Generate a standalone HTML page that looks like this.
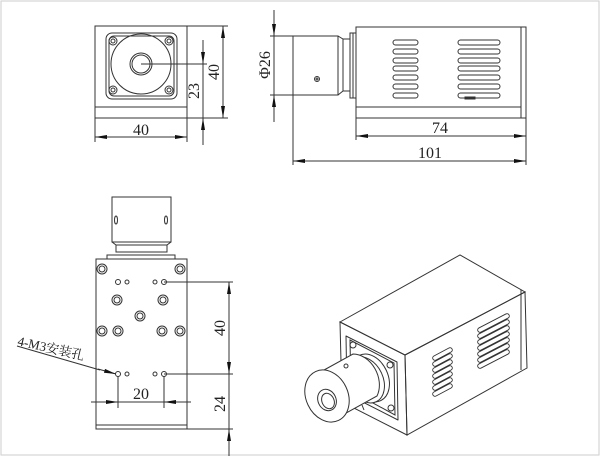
<!DOCTYPE html>
<html><head><meta charset="utf-8"><style>
html,body{margin:0;padding:0;background:#fff;}
svg{display:block;}
text{font-family:"Liberation Serif","Noto Serif CJK SC",serif;fill:#222;font-size:16px;}
</style></head><body>
<svg width="600" height="456" viewBox="0 0 600 456" xmlns="http://www.w3.org/2000/svg">
<defs>
<marker id="a" viewBox="0 0 12 4" refX="12" refY="2" markerWidth="12" markerHeight="4" markerUnits="userSpaceOnUse" orient="auto"><path d="M0,0 L12,2 L0,4z" fill="#111"/></marker>
</defs>
<rect x="1" y="1" width="598" height="454" fill="none" stroke="#ccc"/>
<g fill="none" stroke="#333" stroke-width="1">
<!-- top-left front view -->
<rect x="95" y="26" width="92" height="92"/>
<line x1="95" y1="107" x2="187" y2="107"/>
<rect x="106" y="33" width="71" height="66" rx="6"/>
<rect x="109" y="36" width="65" height="60" rx="5"/>
<circle cx="141" cy="64" r="30"/>
<circle cx="141" cy="64" r="11"/>
<circle cx="141" cy="64" r="9"/>
<circle cx="113" cy="41" r="4"/><circle cx="113" cy="41" r="2"/>
<circle cx="169" cy="41" r="4"/><circle cx="169" cy="41" r="2"/>
<circle cx="113" cy="90" r="4"/><circle cx="113" cy="90" r="2"/>
<circle cx="169" cy="90" r="4"/><circle cx="169" cy="90" r="2"/>
<line x1="141" y1="64" x2="207" y2="64"/>
<line x1="187" y1="26" x2="228" y2="26"/>
<line x1="187" y1="118" x2="228" y2="118"/>
<line x1="223" y1="72" x2="223" y2="26" marker-end="url(#a)"/>
<line x1="223" y1="72" x2="223" y2="118" marker-end="url(#a)"/>
<line x1="203" y1="40" x2="203" y2="64" marker-end="url(#a)"/>
<line x1="203" y1="145" x2="203" y2="118" marker-end="url(#a)"/>
<line x1="203" y1="64" x2="203" y2="118"/>
<line x1="95" y1="118" x2="95" y2="142"/>
<line x1="187" y1="118" x2="187" y2="142"/>
<line x1="141" y1="137" x2="95" y2="137" marker-end="url(#a)"/>
<line x1="141" y1="137" x2="187" y2="137" marker-end="url(#a)"/>

<!-- top-right side view -->
<rect x="356" y="27" width="170" height="91"/>
<line x1="521" y1="27" x2="521" y2="118"/>
<line x1="356" y1="107" x2="521" y2="107"/>
<rect x="350" y="33" width="6" height="65"/>
<line x1="353" y1="33" x2="353" y2="98"/>
<rect x="293" y="36" width="45" height="59"/>
<path d="M338,36 L343,39 L350,39 M338,95 L343,91 L350,91 M343,39 L343,91"/>
<circle cx="317" cy="79" r="2.5"/><circle cx="317" cy="79" r="1"/>
<g>
<rect x="393" y="40" width="25" height="5" rx="2.5"/><rect x="393" y="49" width="25" height="5" rx="2.5"/>
<rect x="393" y="58" width="25" height="5" rx="2.5"/><rect x="393" y="66" width="25" height="5" rx="2.5"/>
<rect x="393" y="75" width="25" height="5" rx="2.5"/><rect x="393" y="84" width="25" height="5" rx="2.5"/>
<rect x="393" y="93" width="25" height="5" rx="2.5"/>
<rect x="458" y="40" width="42" height="5" rx="2.5"/><rect x="458" y="49" width="42" height="5" rx="2.5"/>
<rect x="458" y="58" width="42" height="5" rx="2.5"/><rect x="458" y="66" width="42" height="5" rx="2.5"/>
<rect x="458" y="75" width="42" height="5" rx="2.5"/><rect x="458" y="84" width="42" height="5" rx="2.5"/>
<rect x="458" y="93" width="42" height="5" rx="2.5"/>
<rect x="465" y="97" width="10" height="2"/>
</g>
<line x1="270" y1="36" x2="293" y2="36"/>
<line x1="270" y1="95" x2="293" y2="95"/>
<line x1="274" y1="10" x2="274" y2="36" marker-end="url(#a)"/>
<line x1="274" y1="122" x2="274" y2="95" marker-end="url(#a)"/>
<line x1="274" y1="36" x2="274" y2="95"/>
<line x1="293" y1="95" x2="293" y2="165"/>
<line x1="356" y1="118" x2="356" y2="140"/>
<line x1="526" y1="118" x2="526" y2="165"/>
<line x1="440" y1="136" x2="356" y2="136" marker-end="url(#a)"/>
<line x1="440" y1="136" x2="526" y2="136" marker-end="url(#a)"/>
<line x1="410" y1="161" x2="293" y2="161" marker-end="url(#a)"/>
<line x1="410" y1="161" x2="526" y2="161" marker-end="url(#a)"/>

<!-- bottom-left top view -->
<rect x="112" y="197" width="59" height="45"/>
<ellipse cx="116" cy="220" rx="1.5" ry="4"/>
<ellipse cx="166" cy="220" rx="1.5" ry="4"/>
<path d="M112,242 L116,245 L116,252 L167,252 L167,245 L171,242 M116,245 L167,245"/>
<rect x="107" y="255" width="68" height="4"/>
<rect x="96" y="259" width="91" height="170"/>
<line x1="96" y1="425" x2="187" y2="425"/>
<circle cx="102" cy="269" r="5"/><circle cx="102" cy="269" r="3"/>
<circle cx="180" cy="269" r="5"/><circle cx="180" cy="269" r="3"/>
<circle cx="118" cy="282" r="2.5"/><circle cx="127" cy="282" r="2"/>
<circle cx="155" cy="282" r="2"/><circle cx="164" cy="282" r="2.5"/>
<circle cx="117" cy="300" r="5"/><circle cx="117" cy="300" r="3"/>
<circle cx="163" cy="300" r="5"/><circle cx="163" cy="300" r="3"/>
<circle cx="140" cy="316" r="5"/><circle cx="140" cy="316" r="3"/>
<circle cx="102" cy="331" r="5"/><circle cx="102" cy="331" r="3"/>
<circle cx="118" cy="331" r="5"/><circle cx="118" cy="331" r="3"/>
<circle cx="162" cy="331" r="5"/><circle cx="162" cy="331" r="3"/>
<circle cx="180" cy="331" r="5"/><circle cx="180" cy="331" r="3"/>
<circle cx="118" cy="374" r="2.5"/><circle cx="127" cy="374" r="2"/>
<circle cx="155" cy="374" r="2"/><circle cx="164" cy="374" r="2.5"/>
<line x1="164" y1="282" x2="233" y2="282"/>
<line x1="164" y1="374" x2="233" y2="374"/>
<line x1="187" y1="429" x2="233" y2="429"/>
<line x1="229" y1="328" x2="229" y2="282" marker-end="url(#a)"/>
<line x1="229" y1="328" x2="229" y2="374" marker-end="url(#a)"/>
<line x1="229" y1="374" x2="229" y2="429"/>
<line x1="229" y1="456" x2="229" y2="429" marker-end="url(#a)"/>
<line x1="118" y1="376" x2="118" y2="408"/>
<line x1="164" y1="376" x2="164" y2="408"/>
<line x1="91" y1="402" x2="118" y2="402" marker-end="url(#a)"/>
<line x1="191" y1="402" x2="164" y2="402" marker-end="url(#a)"/>
<line x1="118" y1="402" x2="164" y2="402"/>
<line x1="17" y1="346" x2="100" y2="370"/>
<line x1="98" y1="369" x2="116" y2="374" marker-end="url(#a)"/>

<!-- isometric view -->
<path d="M340,322 L460,255 L525,292 L405,355 Z"/>
<path d="M405,355 L525,292 L527,368 L407,435 Z"/>
<path d="M340,322 L405,355 L407,435 L342,402 Z"/>
<path d="M521,290 L521,370"/>
<path d="M346,336 L397,362 L398,420 L347,394 Z" stroke-linejoin="round"/>
<path d="M350,340 L394,363 L395,415 L351,391 Z"/>
<circle cx="353" cy="345" r="3"/><circle cx="390" cy="365" r="3"/>
<circle cx="354" cy="387" r="3"/><circle cx="391" cy="408" r="3"/>
<ellipse cx="370" cy="378" rx="18" ry="25" transform="rotate(-25 370 378)" fill="#fff"/>
<ellipse cx="366" cy="380" rx="17" ry="24" transform="rotate(-25 366 380)" fill="#fff"/>
<path d="M315,375 L353,354 A21,27 -25 0 1 377,396 L339,417 Z" fill="#fff"/>
<ellipse cx="327" cy="396" rx="21" ry="27" transform="rotate(-25 327 396)" fill="#fff"/>
<ellipse cx="327" cy="400" rx="9" ry="11" transform="rotate(-25 327 400)"/>
<ellipse cx="328" cy="401" rx="6" ry="8" transform="rotate(-25 328 401)"/>
<circle cx="346" cy="366" r="2"/>
<path d="M362,405 L364,410"/>
<g stroke-linecap="round">
<g stroke-width="5.5">
<path d="M435,358 L450,350 M435,364 L450,356 M435,370 L450,362 M435,376 L450,368 M435,382 L450,374 M435,388 L450,380 M435,394 L450,386"/>
<path d="M480,330 L507,316 M480,336 L507,322 M480,342 L507,328 M480,348 L507,334 M480,354 L507,340 M480,360 L507,346 M480,366 L507,352"/>
</g>
<g stroke-width="3.7" stroke="#fff">
<path d="M435,358 L450,350 M435,364 L450,356 M435,370 L450,362 M435,376 L450,368 M435,382 L450,374 M435,388 L450,380 M435,394 L450,386"/>
<path d="M480,330 L507,316 M480,336 L507,322 M480,342 L507,328 M480,348 L507,334 M480,354 L507,340 M480,360 L507,346 M480,366 L507,352"/>
</g>
</g>
</g>
<text x="141" y="137" text-anchor="middle" dy="-2">40</text>
<text transform="translate(219,72) rotate(-90)" text-anchor="middle">40</text>
<text transform="translate(199,91) rotate(-90)" text-anchor="middle">23</text>
<text transform="translate(270,65) rotate(-90)" text-anchor="middle">Φ26</text>
<text x="440" y="133" text-anchor="middle">74</text>
<text x="430" y="158" text-anchor="middle">101</text>
<text x="141" y="399" text-anchor="middle">20</text>
<text transform="translate(225,328) rotate(-90)" text-anchor="middle">40</text>
<text transform="translate(225,404) rotate(-90)" text-anchor="middle">24</text>
<text transform="translate(17,345) rotate(13)" style="font-size:13px">4-M3安装孔</text>
</svg>
</body></html>
